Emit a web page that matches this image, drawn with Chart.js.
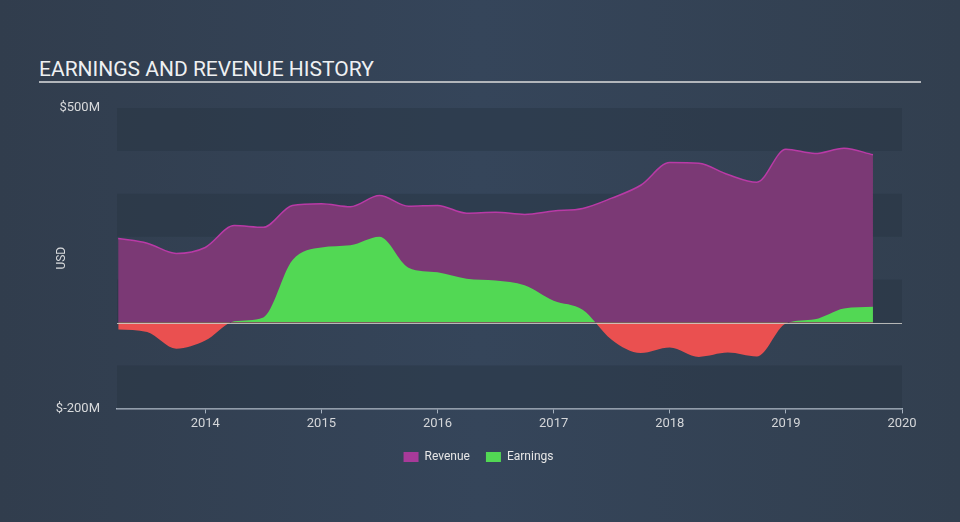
<!DOCTYPE html>
<html>
<head>
<meta charset="utf-8">
<script src="https://cdn.jsdelivr.net/npm/chart.js@4.4.0/dist/chart.umd.min.js"></script>
<style>
  html,body{margin:0;padding:0;background:#334152;}
  #wrap{position:relative;width:960px;height:522px;background:linear-gradient(90deg,#313d4d 0%,#35455a 50%,#323f4f 100%);}
  #title{position:absolute;left:39px;top:57px;font:21px Roboto,sans-serif;color:#eef0f2;letter-spacing:0px;}
  #rule{position:absolute;left:39px;top:81px;width:882px;height:2px;background:#b2b6bb;}
  canvas{position:absolute;left:0;top:0;}
</style>
</head>
<body>
<div id="wrap">
  <div id="title">EARNINGS AND REVENUE HISTORY</div>
  <div id="rule"></div>
  <canvas id="c" width="960" height="522"></canvas>
</div>
<script>
// Quarterly periods (decimal years)
const periods = [2013.25,2013.5,2013.75,2014,2014.25,2014.5,2014.75,2015,2015.25,2015.5,2015.75,2016,2016.25,2016.5,2016.75,2017,2017.25,2017.5,2017.75,2018,2018.25,2018.5,2018.75,2019,2019.25,2019.5,2019.75];
// Values in $M
const revenue = [196,185,161,175,226,222,273,277,270,296,271,273,255,257,252,260,266,290,320,373,371,345,327,404,394,406,391];
const earnings = [-16,-22,-61,-42,3,12,145,175,180,200,128,117,102,98,87,51,30,-40,-71,-58,-80,-70,-79,-2,8,33,37];
const yearTicks = [2014,2015,2016,2017,2018,2019,2020];
const yTicks = [-200,500];

const bandPlugin = {
  id:'bands',
  beforeDatasetsDraw(chart){
    const {ctx, chartArea:a, scales:{y}} = chart;
    ctx.save();
    for(let v=500, i=0; v>-200; v-=100, i++){
      if(i%2===0){
        const t=y.getPixelForValue(v), b=y.getPixelForValue(v-100);
        ctx.fillStyle='rgba(38,50,63,0.38)';
        ctx.fillRect(a.left,t,a.right-a.left,b-t);
      }
    }
    ctx.restore();
  },
  afterDatasetsDraw(chart){
    const {ctx, chartArea:a, scales:{y}} = chart;
    const z=Math.round(y.getPixelForValue(0))+0.5;
    ctx.save();
    ctx.strokeStyle='rgba(205,205,200,0.85)';
    ctx.lineWidth=1.2;
    ctx.beginPath();ctx.moveTo(a.left,z);ctx.lineTo(a.right,z);ctx.stroke();
    ctx.restore();
  }
};

new Chart(document.getElementById('c'),{
  type:'line',
  data:{
    datasets:[
      {label:'Revenue',data:periods.map((p,i)=>({x:p,y:revenue[i]})),
       borderColor:'#b93aa6',borderWidth:1.5,backgroundColor:'#7b3975',
       fill:'origin',pointRadius:0,cubicInterpolationMode:'monotone',order:1},
      {label:'Earnings',data:periods.map((p,i)=>({x:p,y:earnings[i]})),
       borderColor:'rgba(0,0,0,0)',borderWidth:0,backgroundColor:'#52d854',
       fill:{target:{value:0},above:'#52d854',below:'#ea5050'},
       pointRadius:0,cubicInterpolationMode:'monotone',order:0}
    ]
  },
  options:{
    responsive:false,animation:false,
    layout:{padding:{left:55,right:58,top:108,bottom:49}},
    plugins:{
      legend:{position:'bottom',
        labels:{color:'#e6e6e6',font:{family:'Roboto',size:12},boxWidth:15,boxHeight:10,padding:16,
          sort:(a,b)=>a.datasetIndex-b.datasetIndex,
          generateLabels(chart){
            return [{text:'Revenue',fillStyle:'#a83a99',strokeStyle:'#a83a99',lineWidth:0,datasetIndex:0,fontColor:'#e6e6e6'},
                    {text:'Earnings',fillStyle:'#52d854',strokeStyle:'#52d854',lineWidth:0,datasetIndex:1,fontColor:'#e6e6e6'}];
          }}},
      tooltip:{enabled:false}
    },
    scales:{
      x:{type:'linear',min:2013.24,max:2020,
        afterBuildTicks(s){s.ticks=yearTicks.map(v=>({value:v}));},
        ticks:{color:'#d4d6d9',font:{family:'Roboto',size:13},padding:3,maxRotation:0,callback:v=>String(v)},
        grid:{drawOnChartArea:false,drawTicks:true,tickLength:5,color:'#a7b2bf'},
        border:{color:'#a7b2bf',width:1.5}},
      y:{min:-200,max:500,
        afterBuildTicks(s){s.ticks=yTicks.map(v=>({value:v}));},
        afterFit(s){s.width=62;},
        ticks:{color:'#d8dadc',font:{family:'Roboto',size:13},padding:9,callback:v=>'$'+v+'M'},
        grid:{display:false},border:{display:false},
        title:{display:true,text:'USD',color:'#d8dadc',font:{family:'Roboto',size:12},padding:0}}
    }
  },
  plugins:[bandPlugin]
});
</script>
</body>
</html>
